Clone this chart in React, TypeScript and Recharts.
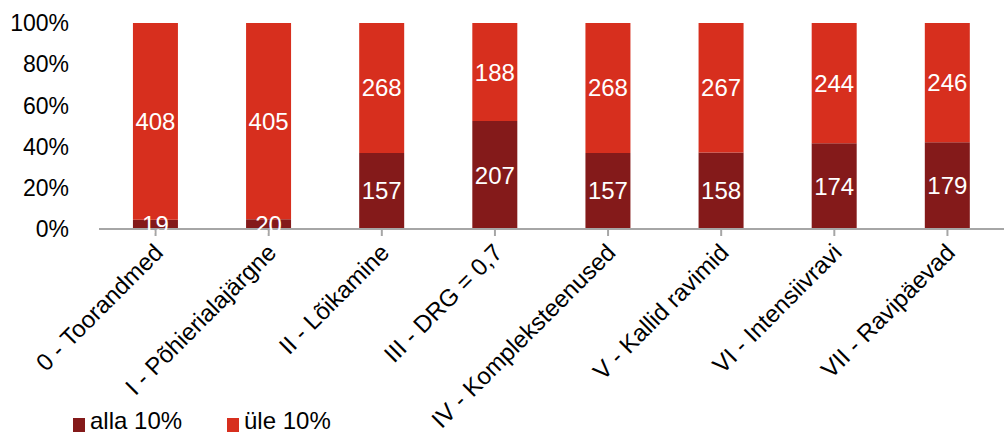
import React from "react";
import {
  Bar,
  BarChart,
  LabelList,
  Legend,
  XAxis,
  YAxis,
} from "recharts";

const categories = [
  "0 - Toorandmed",
  "I - Põhierialajärgne",
  "II - Lõikamine",
  "III - DRG = 0,7",
  "IV - Kompleksteenused",
  "V - Kallid ravimid",
  "VI - Intensiivravi",
  "VII - Ravipäevad",
];
const alla = [19, 20, 157, 207, 157, 158, 174, 179];
const yle = [408, 405, 268, 188, 268, 267, 244, 246];
const yTicks = [0, 0.2, 0.4, 0.6, 0.8, 1];

const DARK = "#841a1a";
const RED = "#d72f1e";
const FONT = "'Liberation Sans', Arial, sans-serif";

const data = categories.map((name, i) => ({ name, alla: alla[i], yle: yle[i] }));

function CategoryTick(props: any) {
  const { x, y, payload } = props;
  return (
    <g transform={`translate(${x + 9},${y + 16})`}>
      <text
        transform="rotate(-45)"
        textAnchor="end"
        fontSize={24}
        fontFamily={FONT}
        fill="#000"
      >
        {payload.value}
      </text>
    </g>
  );
}

function LegendBox() {
  const items = [
    { label: "alla 10%", color: DARK, x: 73 },
    { label: "üle 10%", color: RED, x: 227 },
  ];
  return (
    <div style={{ position: "relative", height: 35 }}>
      {items.map((it) => (
        <div
          key={it.label}
          style={{
            position: "absolute",
            left: it.x,
            top: 11,
            display: "flex",
            alignItems: "flex-start",
            fontFamily: FONT,
            fontSize: 24,
            lineHeight: "22px",
            color: "#000",
            whiteSpace: "nowrap",
          }}
        >
          <span
            style={{
              width: 12,
              height: 14,
              background: it.color,
              display: "inline-block",
              marginRight: 5,
              marginTop: 8,
            }}
          />
          {it.label}
        </div>
      ))}
    </div>
  );
}

export default function App() {
  return (
    <div style={{ position: "absolute", left: 0, top: 0, background: "#fff" }}>
      <BarChart
        width={1004}
        height={434}
        data={data}
        stackOffset="expand"
        barCategoryGap="30%"
        margin={{ top: 23, right: 0, left: 0, bottom: 0 }}
      >
        <XAxis
          dataKey="name"
          interval={0}
          height={170}
          tick={<CategoryTick />}
          axisLine={{ stroke: "#a6a6a6", strokeWidth: 2 }}
          tickLine={{ stroke: "#a6a6a6", strokeWidth: 2 }}
          tickSize={7}
        />
        <YAxis
          width={99}
          domain={[0, 1]}
          ticks={yTicks}
          tickFormatter={(v: number) => `${Math.round(v * 100)}%`}
          axisLine={false}
          tickLine={false}
          tick={{ fontSize: 23, fontFamily: FONT, fill: "#000" }}
          tickMargin={24}
        />
        <Legend verticalAlign="bottom" height={35} content={<LegendBox />} />
        <Bar dataKey="alla" stackId="a" fill={DARK} isAnimationActive={false}>
          <LabelList
            dataKey="alla"
            position="center"
            fill="#fff"
            fontSize={24}
            fontFamily={FONT}
          />
        </Bar>
        <Bar dataKey="yle" stackId="a" fill={RED} isAnimationActive={false}>
          <LabelList
            dataKey="yle"
            position="center"
            fill="#fff"
            fontSize={24}
            fontFamily={FONT}
          />
        </Bar>
      </BarChart>
    </div>
  );
}
